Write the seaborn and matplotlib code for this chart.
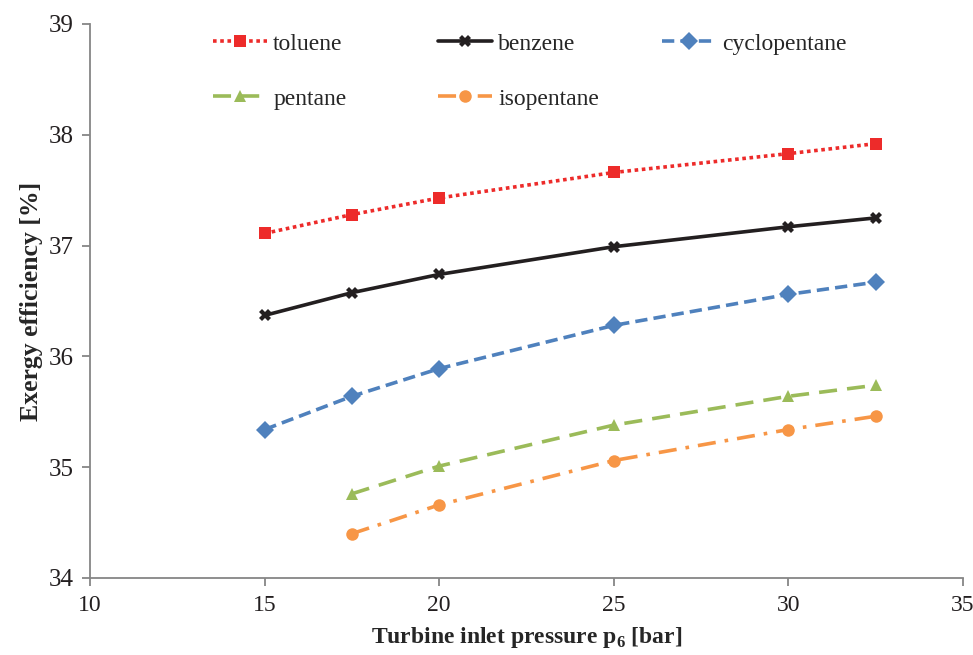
import pandas as pd
import seaborn as sns
import matplotlib.pyplot as plt

# -------------------------------
# Data
# -------------------------------
p_all = [15, 17.5, 20, 25, 30, 32.5]
p_short = [17.5, 20, 25, 30, 32.5]

toluene = [37.11, 37.28, 37.43, 37.66, 37.83, 37.92]
benzene = [36.37, 36.575, 36.74, 36.99, 37.17, 37.25]
cyclopentane = [35.34, 35.64, 35.89, 36.28, 36.56, 36.67]
pentane = [34.76, 35.01, 35.38, 35.64, 35.74]
isopentane = [34.40, 34.66, 35.06, 35.34, 35.46]

fluids = ['toluene', 'benzene', 'cyclopentane', 'pentane', 'isopentane']

rows = []
for name, xs, ys in [('toluene', p_all, toluene), ('benzene', p_all, benzene),
                     ('cyclopentane', p_all, cyclopentane),
                     ('pentane', p_short, pentane), ('isopentane', p_short, isopentane)]:
    for x, y in zip(xs, ys):
        rows.append({'p': x, 'eff': y, 'fluid': name})
df = pd.DataFrame(rows)

palette = {'toluene': '#ED2B2A', 'benzene': '#231F20', 'cyclopentane': '#4F81BD',
           'pentane': '#9BBB59', 'isopentane': '#F79646'}
markers = {'toluene': 's', 'benzene': 'X', 'cyclopentane': 'D',
           'pentane': '^', 'isopentane': 'o'}
dashes = {'toluene': (1, 1), 'benzene': '', 'cyclopentane': (3.4, 1.7),
          'pentane': (5, 2.8), 'isopentane': (5, 2.5, 1, 2.5)}

# -------------------------------
# Plot
# -------------------------------
sns.set_style('white')
plt.rcParams['font.family'] = ['Liberation Serif', 'DejaVu Serif']
plt.rcParams['mathtext.fontset'] = 'custom'
plt.rcParams['mathtext.rm'] = 'Liberation Serif:bold'
plt.rcParams['mathtext.bf'] = 'Liberation Serif:bold'

fig = plt.figure(figsize=(9.73, 6.55), dpi=100)
ax = fig.add_axes([90 / 973, 1 - 578 / 655, (963 - 90) / 973, (578 - 24) / 655])

sns.lineplot(data=df, x='p', y='eff', hue='fluid', style='fluid', hue_order=fluids,
             style_order=fluids, palette=palette, markers=markers, dashes=dashes,
             linewidth=2.6, markersize=9, markeredgewidth=0, ax=ax, legend=True)

ax.set_xlim(10, 35)
ax.set_ylim(34, 39)
ax.set_xticks([10, 15, 20, 25, 30, 35])
ax.set_yticks([34, 35, 36, 37, 38, 39])
ax.set_xlabel('Turbine inlet pressure p$_6$ [bar]', fontsize=17, fontweight='bold', labelpad=7)
ax.set_ylabel('Exergy efficiency [%]', fontsize=18.5, fontweight='bold', labelpad=4)

for side in ['top', 'right']:
    ax.spines[side].set_visible(False)
for side in ['left', 'bottom']:
    ax.spines[side].set_color('#868686')
    ax.spines[side].set_linewidth(1.3)
ax.tick_params(axis='both', which='major', direction='out', length=6, width=1.3,
               color='#868686', labelcolor='#231F20', pad=6, left=True, bottom=True)
ax.tick_params(axis='x', labelsize=17)
ax.tick_params(axis='y', labelsize=18)

# legend: three columns placed separately, like the reference
handles, labels = ax.get_legend_handles_labels()
lookup = dict(zip(labels, handles))
ax.get_legend().remove()
columns = [(['toluene', 'pentane'], 213), (['benzene', 'isopentane'], 438),
           (['cyclopentane'], 662)]
for names, xpix in columns:
    leg = fig.legend([lookup[n] for n in names], names, loc='upper left',
                     bbox_to_anchor=(xpix / 973, 1 - 33 / 655),
                     bbox_transform=fig.transFigure, frameon=False, fontsize=17,
                     handlelength=2.3, handletextpad=0.25, labelspacing=1.42,
                     borderpad=0, borderaxespad=0)

fig.savefig('out.png', dpi=100)
